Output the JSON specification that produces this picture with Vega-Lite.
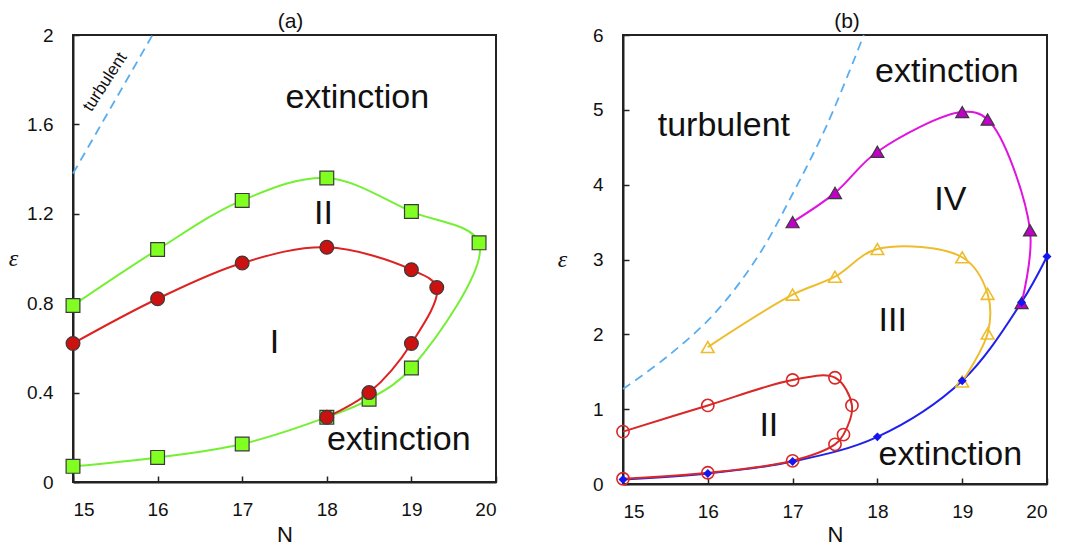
{
  "$schema": "https://vega.github.io/schema/vega-lite/v6.json",
  "background": "white",
  "padding": {"left": 7, "top": 10, "right": 0, "bottom": 0},
  "spacing": 58,
  "resolve": {"scale": {"color": "independent", "shape": "independent", "fill": "independent", "stroke": "independent"}},
  "datasets": {
    "a": [
      {"s": "turb", "i": 0, "N": 15, "eps": 1.38},
      {"s": "turb", "i": 1, "N": 15.47, "eps": 1.69},
      {"s": "turb", "i": 2, "N": 15.94, "eps": 2.0},
      {"s": "II", "i": 0, "N": 15, "eps": 0.79},
      {"s": "II", "i": 1, "N": 16, "eps": 1.04},
      {"s": "II", "i": 2, "N": 17, "eps": 1.26},
      {"s": "II", "i": 3, "N": 18, "eps": 1.36},
      {"s": "II", "i": 4, "N": 19, "eps": 1.21},
      {"s": "II", "i": 5, "N": 19.8, "eps": 1.07},
      {"s": "II", "i": 6, "N": 19, "eps": 0.51},
      {"s": "II", "i": 7, "N": 18.5, "eps": 0.37},
      {"s": "II", "i": 8, "N": 18, "eps": 0.29},
      {"s": "II", "i": 9, "N": 17, "eps": 0.17},
      {"s": "II", "i": 10, "N": 16, "eps": 0.11},
      {"s": "II", "i": 11, "N": 15, "eps": 0.07},
      {"s": "I", "i": 0, "N": 15, "eps": 0.62},
      {"s": "I", "i": 1, "N": 16, "eps": 0.82},
      {"s": "I", "i": 2, "N": 17, "eps": 0.98},
      {"s": "I", "i": 3, "N": 18, "eps": 1.05},
      {"s": "I", "i": 4, "N": 19, "eps": 0.95},
      {"s": "I", "i": 5, "N": 19.3, "eps": 0.87},
      {"s": "I", "i": 6, "N": 19, "eps": 0.62},
      {"s": "I", "i": 7, "N": 18.5, "eps": 0.4},
      {"s": "I", "i": 8, "N": 18, "eps": 0.29}
    ],
    "b": [
      {"s": "turb", "i": 0, "N": 15, "eps": 1.27},
      {"s": "turb", "i": 1, "N": 15.53, "eps": 1.71},
      {"s": "turb", "i": 2, "N": 16.08, "eps": 2.28},
      {"s": "turb", "i": 3, "N": 16.59, "eps": 3.04},
      {"s": "turb", "i": 4, "N": 17.02, "eps": 3.92},
      {"s": "turb", "i": 5, "N": 17.41, "eps": 4.81},
      {"s": "turb", "i": 6, "N": 17.84, "eps": 6.0},
      {"s": "ext", "i": 0, "N": 15, "eps": 0.06},
      {"s": "ext", "i": 1, "N": 16, "eps": 0.14},
      {"s": "ext", "i": 2, "N": 17, "eps": 0.3},
      {"s": "ext", "i": 3, "N": 18, "eps": 0.63},
      {"s": "ext", "i": 4, "N": 19, "eps": 1.38},
      {"s": "ext", "i": 5, "N": 19.7, "eps": 2.43},
      {"s": "ext", "i": 6, "N": 20, "eps": 3.04},
      {"s": "II", "i": 0, "N": 15, "eps": 0.7},
      {"s": "II", "i": 1, "N": 16, "eps": 1.05},
      {"s": "II", "i": 2, "N": 17, "eps": 1.39},
      {"s": "II", "i": 3, "N": 17.5, "eps": 1.42},
      {"s": "II", "i": 4, "N": 17.7, "eps": 1.05},
      {"s": "II", "i": 5, "N": 17.6, "eps": 0.66},
      {"s": "II", "i": 6, "N": 17.5, "eps": 0.53},
      {"s": "II", "i": 7, "N": 17, "eps": 0.31},
      {"s": "II", "i": 8, "N": 16, "eps": 0.15},
      {"s": "II", "i": 9, "N": 15, "eps": 0.07},
      {"s": "III", "i": 0, "N": 16, "eps": 1.83},
      {"s": "III", "i": 1, "N": 17, "eps": 2.53},
      {"s": "III", "i": 2, "N": 17.5, "eps": 2.77},
      {"s": "III", "i": 3, "N": 18, "eps": 3.14},
      {"s": "III", "i": 4, "N": 19, "eps": 3.03},
      {"s": "III", "i": 5, "N": 19.3, "eps": 2.54},
      {"s": "III", "i": 6, "N": 19.3, "eps": 2.01},
      {"s": "III", "i": 7, "N": 19, "eps": 1.37},
      {"s": "IV", "i": 0, "N": 17, "eps": 3.5},
      {"s": "IV", "i": 1, "N": 17.5, "eps": 3.89},
      {"s": "IV", "i": 2, "N": 18, "eps": 4.44},
      {"s": "IV", "i": 3, "N": 19, "eps": 4.97},
      {"s": "IV", "i": 4, "N": 19.3, "eps": 4.87},
      {"s": "IV", "i": 5, "N": 19.8, "eps": 3.39},
      {"s": "IV", "i": 6, "N": 19.7, "eps": 2.42}
    ],
    "labelsA": [
      {"label": "extinction", "N": 18.36, "eps": 1.72},
      {"label": "II", "N": 17.96, "eps": 1.2},
      {"label": "I", "N": 17.38, "eps": 0.62},
      {"label": "extinction", "N": 18.85, "eps": 0.19}
    ],
    "labelsB": [
      {"label": "extinction", "N": 18.82, "eps": 5.5},
      {"label": "turbulent", "N": 16.19, "eps": 4.79},
      {"label": "IV", "N": 18.86, "eps": 3.79},
      {"label": "III", "N": 18.18, "eps": 2.18},
      {"label": "II", "N": 16.72, "eps": 0.77},
      {"label": "extinction", "N": 18.86, "eps": 0.39}
    ],
    "turbA": [
      {"label": "turbulent", "N": 15.38, "eps": 1.79}
    ]
  },
  "hconcat": [
    {
      "width": 423,
      "height": 447,
      "title": {"text": "(a)", "fontSize": 21, "fontWeight": "normal", "offset": -6, "dx": 6, "color": "#111"},
      "encoding": {
        "x": {"field": "N", "type": "quantitative", "title": "N",
              "scale": {"domain": [15, 20], "nice": false, "zero": false},
              "axis": {"values": [15, 16, 17, 18, 19, 20]}},
        "y": {"field": "eps", "type": "quantitative", "title": "ε",
              "scale": {"domain": [0, 2], "nice": false},
              "axis": {"values": [0, 0.4, 0.8, 1.2, 1.6, 2], "format": "~g",
                       "titleX": -60, "titleY": 223}}
      },
      "layer": [
        {
          "data": {"name": "a"},
          "transform": [{"filter": "datum.s === 'turb'"}],
          "mark": {"type": "line", "color": "#5aaef0", "strokeWidth": 1.8, "strokeDash": [9, 6]},
          "encoding": {"order": {"field": "i", "type": "quantitative"}}
        },
        {
          "data": {"name": "a"},
          "transform": [{"filter": "datum.s !== 'turb'"}],
          "mark": {"type": "line", "interpolate": "catmull-rom", "strokeWidth": 2},
          "encoding": {
            "order": {"field": "i", "type": "quantitative"},
            "color": {"field": "s", "type": "nominal", "legend": null,
                      "scale": {"domain": ["II", "I"], "range": ["#74f034", "#dd2222"]}}
          }
        },
        {
          "data": {"name": "a"},
          "transform": [{"filter": "datum.s !== 'turb'"}],
          "mark": {"type": "point", "filled": true, "size": 190, "opacity": 1, "stroke": "#3a3a3a", "strokeWidth": 1.2},
          "encoding": {
            "shape": {"field": "s", "type": "nominal", "legend": null,
                      "scale": {"domain": ["II", "I"], "range": ["square", "circle"]}},
            "fill": {"field": "s", "type": "nominal", "legend": null,
                     "scale": {"domain": ["II", "I"], "range": ["#80ff20", "#cc1111"]}}
          }
        },
        {
          "data": {"name": "labelsA"},
          "mark": {"type": "text", "fontSize": 34, "color": "#111", "align": "center", "baseline": "middle"},
          "encoding": {"text": {"field": "label"}}
        },
        {
          "data": {"name": "turbA"},
          "mark": {"type": "text", "fontSize": 17, "angle": -57, "color": "#111", "align": "center", "baseline": "middle"},
          "encoding": {"text": {"field": "label"}}
        }
      ]
    },
    {
      "width": 424,
      "height": 449,
      "title": {"text": "(b)", "fontSize": 21, "fontWeight": "normal", "offset": -6, "dx": 12, "color": "#111"},
      "encoding": {
        "x": {"field": "N", "type": "quantitative", "title": "N",
              "scale": {"domain": [15, 20], "nice": false, "zero": false},
              "axis": {"values": [15, 16, 17, 18, 19, 20], "titlePadding": 3}},
        "y": {"field": "eps", "type": "quantitative", "title": "ε",
              "scale": {"domain": [0, 6], "nice": false},
              "axis": {"values": [0, 1, 2, 3, 4, 5, 6], "titleX": -61, "titleY": 224}}
      },
      "layer": [
        {
          "data": {"name": "b"},
          "transform": [{"filter": "datum.s === 'turb'"}],
          "mark": {"type": "line", "interpolate": "catmull-rom", "color": "#5aaef0", "strokeWidth": 1.8, "strokeDash": [9, 6]},
          "encoding": {"order": {"field": "i", "type": "quantitative"}}
        },
        {
          "data": {"name": "b"},
          "transform": [{"filter": "datum.s !== 'turb'"}],
          "mark": {"type": "line", "interpolate": "catmull-rom", "strokeWidth": 2},
          "encoding": {
            "order": {"field": "i", "type": "quantitative"},
            "color": {"field": "s", "type": "nominal", "legend": null,
                      "scale": {"domain": ["IV", "III", "ext", "II"], "range": ["#e014e0", "#eebd2e", "#2020ee", "#d82828"]}}
          }
        },
        {
          "data": {"name": "b"},
          "transform": [{"filter": "datum.s === 'IV'"}],
          "mark": {"type": "point", "shape": "triangle-up", "filled": true, "size": 170, "opacity": 1, "fill": "#c000c8", "stroke": "#3a3a3a", "strokeWidth": 1.2}
        },
        {
          "data": {"name": "b"},
          "transform": [{"filter": "datum.s === 'III'"}],
          "mark": {"type": "point", "shape": "triangle-up", "filled": false, "size": 160, "opacity": 1, "strokeWidth": 1.6, "color": "#eebd2e"}
        },
        {
          "data": {"name": "b"},
          "transform": [{"filter": "datum.s === 'II'"}],
          "mark": {"type": "point", "shape": "circle", "filled": false, "size": 150, "opacity": 1, "strokeWidth": 1.6, "color": "#d82828"}
        },
        {
          "data": {"name": "b"},
          "transform": [{"filter": "datum.s === 'ext'"}],
          "mark": {"type": "point", "shape": "diamond", "filled": true, "size": 80, "opacity": 1, "fill": "#1515f0"}
        },
        {
          "data": {"name": "labelsB"},
          "mark": {"type": "text", "fontSize": 34, "color": "#111", "align": "center", "baseline": "middle"},
          "encoding": {"text": {"field": "label"}}
        }
      ]
    }
  ],
  "config": {
    "font": "Liberation Sans",
    "view": {"stroke": "#222", "strokeWidth": 2},
    "axis": {
      "grid": false,
      "domainColor": "#222",
      "domainWidth": 2,
      "tickColor": "#222",
      "tickWidth": 1.5,
      "tickSize": -6,
      "labelFontSize": 19,
      "labelColor": "#111",
      "titleFontSize": 22,
      "titleFontWeight": "normal",
      "titleColor": "#111"
    },
    "axisX": {"labelPadding": 24, "titlePadding": 5},
    "axisY": {"labelPadding": 26, "titleAngle": 0, "titleAlign": "center", "titleBaseline": "middle",
              "titleFont": "Liberation Serif", "titleFontStyle": "italic", "titleFontSize": 24}
  }
}
